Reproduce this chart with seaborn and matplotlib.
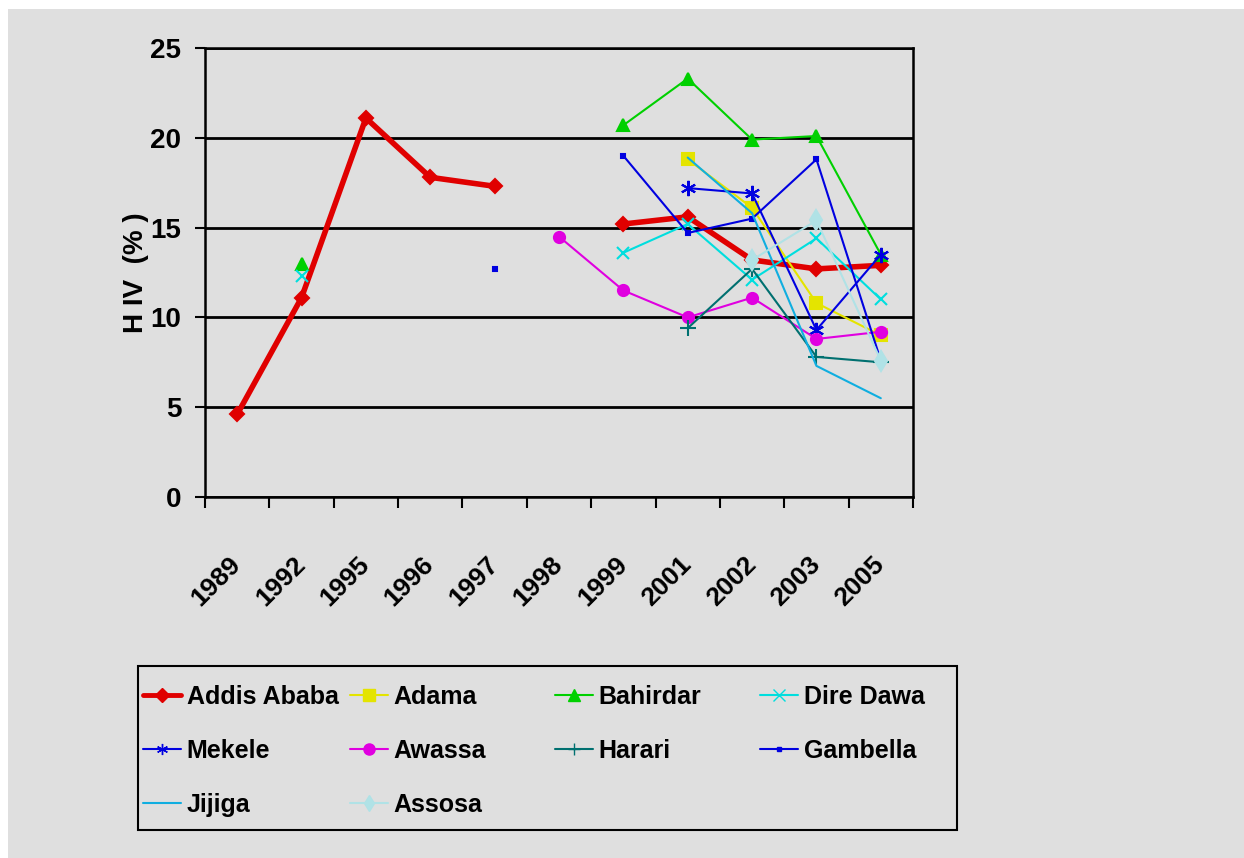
import numpy as np
import pandas as pd
import seaborn as sns
import matplotlib.pyplot as plt
from matplotlib.lines import Line2D
from matplotlib.patches import Rectangle

nan = np.nan

# survey years (categorical x axis)
years = ['1989', '1992', '1995', '1996', '1997', '1998', '1999', '2001', '2002', '2003', '2005']

# HIV prevalence (%) per town
addis_ababa = [4.6, 11.1, 21.1, 17.8, 17.3, nan, 15.2, 15.6, 13.2, 12.7, 12.9]
adama = [nan, nan, nan, nan, nan, nan, nan, 18.8, 16.1, 10.8, 9.0]
bahirdar = [nan, 13.0, nan, nan, nan, nan, 20.7, 23.3, 19.9, 20.1, 13.5]
dire_dawa = [nan, 12.3, nan, nan, nan, nan, 13.6, 15.2, 12.1, 14.4, 11.0]
mekele = [nan, nan, nan, nan, nan, nan, nan, 17.2, 16.9, 9.3, 13.5]
awassa = [nan, nan, nan, nan, nan, 14.5, 11.5, 10.0, 11.1, 8.8, 9.2]
harari = [nan, nan, nan, nan, nan, nan, nan, 9.4, 12.7, 7.8, 7.5]
gambella = [nan, nan, nan, nan, 12.7, nan, 19.0, 14.7, 15.5, 18.8, 7.6]
jijiga = [nan, nan, nan, nan, nan, nan, nan, 18.9, 15.8, 7.3, 5.5]
assosa = [nan, nan, nan, nan, nan, nan, nan, nan, 13.2, 15.4, 7.6]

towns = ['Addis Ababa', 'Adama', 'Bahirdar', 'Dire Dawa', 'Mekele',
         'Awassa', 'Harari', 'Gambella', 'Jijiga', 'Assosa']
values = [addis_ababa, adama, bahirdar, dire_dawa, mekele,
          awassa, harari, gambella, jijiga, assosa]

# line style per town: colour, marker, marker size, line width
styles = {
    'Addis Ababa': dict(color='#e00000', marker='D', ms=7, lw=4.0),
    'Adama': dict(color='#e4e400', marker='s', ms=8, lw=1.5),
    'Bahirdar': dict(color='#00d000', marker='^', ms=9, lw=1.5),
    'Dire Dawa': dict(color='#00dede', marker='x', ms=9, lw=1.5),
    'Mekele': dict(color='#0000e0', marker=(6, 2, 0), ms=11, lw=1.5),
    'Awassa': dict(color='#e000e0', marker='o', ms=8, lw=1.5),
    'Harari': dict(color='#007070', marker='+', ms=11, lw=1.5),
    'Gambella': dict(color='#0000e0', marker='s', ms=3, lw=1.5),
    'Jijiga': dict(color='#10aee0', marker='', ms=0, lw=1.5),
    'Assosa': dict(color='#b0e2e6', marker='d', ms=10, lw=1.5),
}

df = pd.DataFrame(dict(zip(towns, values)), index=years)

sns.set_theme(style="white")
plt.rcParams['font.family'] = ['Liberation Sans', 'DejaVu Sans']
plt.rcParams['font.weight'] = 'bold'
for key in ['text.color', 'axes.labelcolor', 'xtick.color', 'ytick.color']:
    plt.rcParams[key] = 'black'

bg = '#dfdfdf'
fig = plt.figure(figsize=(12.44, 8.58), dpi=100, facecolor='white')
fig.patches.append(Rectangle((8 / 1244, 0), 1, 1 - 9 / 858, transform=fig.transFigure,
                             facecolor=bg, edgecolor='none', zorder=-10))
ax = fig.add_axes([205 / 1244, 1 - 497 / 858, 708 / 1244, 449 / 858])
ax.set_facecolor(bg)

xpos = np.arange(len(years))

# draw each town, breaking the line wherever a year is missing
for town in towns:
    st = styles[town]
    y = df[town].to_numpy()
    ok = ~np.isnan(y)
    start = None
    for i in range(len(y) + 1):
        if i < len(y) and ok[i]:
            if start is None:
                start = i
        elif start is not None:
            sns.lineplot(x=xpos[start:i], y=y[start:i], ax=ax, color=st['color'],
                         linewidth=st['lw'], marker=st['marker'] or None,
                         markersize=st['ms'], markeredgecolor=st['color'],
                         markeredgewidth=1.5, legend=False, zorder=3)
            start = None

ax.set_xlim(-0.5, len(years) - 0.5)
ax.set_ylim(0, 25)
ax.set_yticks([0, 5, 10, 15, 20, 25])
ax.yaxis.grid(True, color='black', linewidth=2)
ax.set_axisbelow(True)

# year labels sit between the boundary tick marks
ax.set_xticks(np.arange(-0.5, len(years), 1))
ax.set_xticklabels([])
ax.set_xticks(xpos, minor=True)
ax.set_xticklabels(years, minor=True, rotation=45, ha='right', va='center',
                   rotation_mode='anchor', fontsize=19, fontweight='bold')
ax.tick_params(axis='x', which='major', direction='out', length=8, width=1.5,
               color='black', bottom=True)
ax.tick_params(axis='x', which='minor', length=0, pad=46, bottom=True)
ax.tick_params(axis='y', direction='out', length=7, width=1.5, color='black',
               left=True, labelsize=20, pad=10)
for lab in ax.get_yticklabels():
    lab.set_fontweight('bold')

for side in ['left', 'bottom', 'right', 'top']:
    ax.spines[side].set_visible(True)
    ax.spines[side].set_color('black')
    ax.spines[side].set_linewidth(1.8)

ax.set_ylabel('H IV  (% )', fontsize=20, fontweight='bold', labelpad=1)
ax.set_xlabel('')

# legend box: four columns laid out like the original
fig.patches.append(Rectangle((138 / 1244, 1 - 830 / 858), 819 / 1244, 164 / 858,
                             transform=fig.transFigure, facecolor='none',
                             edgecolor='black', linewidth=1.5))
col_x = [143, 350, 555, 760]
for c in range(4):
    handles = []
    for k in range(c, len(towns), 4):
        st = styles[towns[k]]
        handles.append(Line2D([], [], color=st['color'], linewidth=min(st['lw'], 3.5),
                              marker=st['marker'] or None, markersize=min(st['ms'], 8),
                              markeredgecolor=st['color'], label=towns[k]))
    leg = fig.legend(handles=handles, loc='upper left',
                     bbox_to_anchor=(col_x[c] / 1244, 1 - 685 / 858),
                     frameon=False, borderpad=0, borderaxespad=0,
                     handlelength=1.5, handletextpad=0.25, labelspacing=1.2,
                     prop={'size': 18, 'weight': 'bold'})

fig.savefig('out.png', dpi=100, facecolor=fig.get_facecolor())
